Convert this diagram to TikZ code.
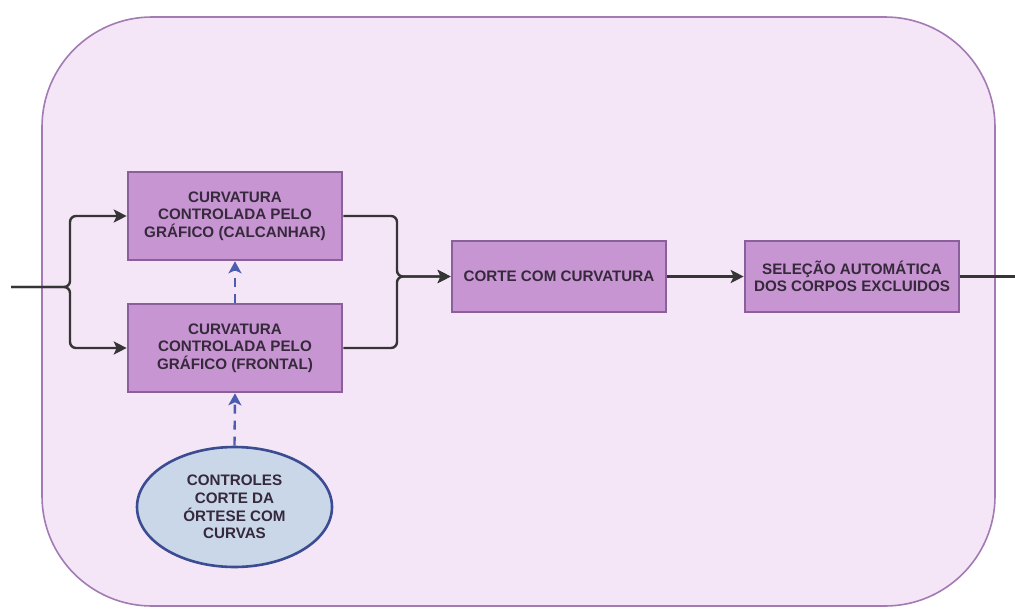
\documentclass[tikz,border=0pt]{standalone}
\usepackage{fontspec}
\setmainfont{Liberation Sans}
\usetikzlibrary{arrows.meta,shapes.geometric}
\definecolor{panelfill}{HTML}{F4E5F7}
\definecolor{panelline}{HTML}{A37BB3}
\definecolor{boxfill}{HTML}{C795D1}
\definecolor{boxline}{HTML}{8B5E9C}
\definecolor{ovalfill}{HTML}{C9D7E8}
\definecolor{ovalline}{HTML}{3B4C92}
\definecolor{ctrl}{HTML}{4C5DB0}
\definecolor{wire}{HTML}{353535}
\definecolor{ink}{HTML}{35293B}
\begin{document}
\begin{tikzpicture}[x=1pt,y=-1pt,
  lbl/.style={font=\fontsize{15.2}{17.6}\selectfont\bfseries, text=ink, align=center},
  stagebox/.style={lbl, rectangle, draw=boxline, fill=boxfill, line width=2.6pt, inner sep=0pt,
    minimum width=214pt},
  ctrloval/.style={lbl, ellipse, draw=ovalline, fill=ovalfill, line width=2.6pt, inner sep=0pt,
    minimum width=195pt, minimum height=120pt},
  wireline/.style={draw=wire, line width=2.4pt, rounded corners=6pt},
  arr/.style={-{Stealth[length=13pt,width=13pt,inset=3pt]}},
  ctrlline/.style={draw=ctrl, line width=2.4pt, dash pattern=on 9pt off 7pt,
    -{Stealth[length=12pt,width=13pt,inset=3pt]}}]
\useasboundingbox (0,0) rectangle (1015,608);
% background panel
\draw[fill=panelfill, draw=panelline, line width=1.6pt, rounded corners=110pt]
  (42,17) rectangle (995,606);
% stages
\node[stagebox, minimum height=88pt] (calc) at (235,216)
  {CURVATURA\\CONTROLADA PELO\\GRÁFICO (CALCANHAR)};
\node[stagebox, minimum height=88pt] (front) at (235,348)
  {CURVATURA\\CONTROLADA PELO\\GRÁFICO (FRONTAL)};
\node[stagebox, minimum height=71pt] (corte) at (559,276.5)
  {CORTE COM CURVATURA};
\node[stagebox, minimum height=71pt] (sel) at (852,276.5)
  {SELEÇÃO AUTOMÁTICA\\DOS CORPOS EXCLUIDOS};
\node[ctrloval] (ctl) at (234.5,507) {CONTROLES\\CORTE DA\\ÓRTESE COM\\CURVAS};
% junction points
\coordinate (in) at (11,287);
\coordinate (jl) at (70,287);
\coordinate (jr) at (397,276.5);
\coordinate (out) at (1015,276.5);
% main flow
\draw[wireline, arr] (in) -- (jl) |- (calc.west);
\draw[wireline, arr] (in) -- (jl) |- (front.west);
\draw[wireline, arr] (calc.east) -| (jr) -- (corte.west);
\draw[wireline, arr] (front.east) -| (jr) -- (corte.west);
\draw[wireline, arr] (corte.east) -- (sel.west);
\draw[wireline] (sel.east) -- (out);
% control links
\draw[ctrlline] (ctl.north) -- (front.south);
\draw[ctrlline] (front.north) -- (calc.south);
\end{tikzpicture}
\end{document}
